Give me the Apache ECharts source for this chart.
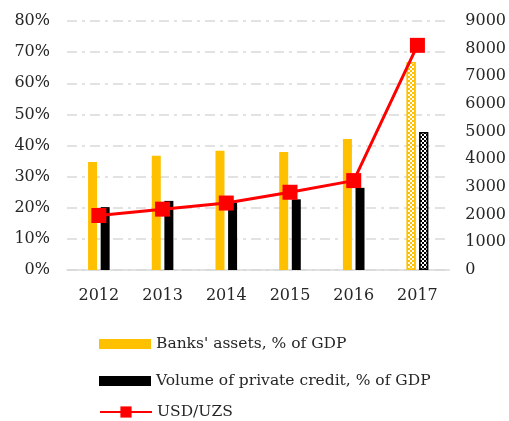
<!DOCTYPE html>
<html>
<head>
<meta charset="utf-8">
<script src="https://cdn.jsdelivr.net/npm/echarts@6/dist/echarts.min.js"></script>
<style>
  html, body { margin: 0; padding: 0; background: #fff; }
  #chart { width: 509px; height: 421px; }
</style>
</head>
<body>
<div id="chart"></div>
<script>
// Banking indicators (% of GDP) and the USD/UZS exchange rate, 2012-2017
const years = ['2012', '2013', '2014', '2015', '2016', '2017'];
const banksAssets = [34.7, 36.7, 38.3, 37.9, 42.1, 66.8];
const privateCredit = [20.2, 22.2, 21.6, 22.7, 26.4, 44.3];
const usdUzs = [1970, 2200, 2420, 2810, 3231, 8120];

const FONT = 'DejaVu Serif';
const TEXT = '#262626';
const GRID = '#d9d9d9';

// The latest year is an estimate, drawn with a hatched fill
const estimateDecal = {
  symbol: 'rect',
  symbolSize: 1,
  color: '#ffffff',
  dashArrayX: [[2, 2], [0, 2, 2, 0]],
  dashArrayY: [2, 0],
  rotation: 0
};

function withEstimate(values, color) {
  return values.map((v, i) => i === values.length - 1
    ? { value: v, itemStyle: { color: color, borderColor: color, borderWidth: 1.5, decal: estimateDecal } }
    : v);
}

const chart = echarts.init(document.getElementById('chart'), null, { renderer: 'canvas' });

const legendText = { color: TEXT, fontFamily: FONT, fontSize: 15.5 };

chart.setOption({
  animation: false,
  aria: { enabled: false, decal: { show: false } },
  grid: { left: 67, right: 59, top: 21, bottom: 151 },
  xAxis: {
    type: 'category',
    data: years,
    axisLine: { lineStyle: { color: GRID, width: 1.5 } },
    axisTick: { show: false },
    axisLabel: { color: TEXT, fontFamily: FONT, fontSize: 16, margin: 18 }
  },
  yAxis: [
    {
      type: 'value', min: 0, max: 80, interval: 10,
      axisLabel: { formatter: '{value}%', color: TEXT, fontFamily: FONT, fontSize: 16, margin: 17 },
      axisLine: { show: false }, axisTick: { show: false },
      splitLine: { lineStyle: { color: GRID, width: 1.5, type: [10, 5, 3, 5] } }
    },
    {
      type: 'value', min: 0, max: 9000, interval: 1000,
      axisLabel: { formatter: v => String(v), color: TEXT, fontFamily: FONT, fontSize: 16, margin: 16 },
      axisLine: { show: false }, axisTick: { show: false },
      splitLine: { show: false }
    }
  ],
  legend: [
    { data: [{ name: "Banks' assets, % of GDP", icon: 'rect' }], left: 99, top: 336, itemHeight: 10 },
    { data: [{ name: 'Volume of private credit, % of GDP', icon: 'rect' }], left: 99, top: 373, itemHeight: 10 },
    { data: ['USD/UZS'], left: 99, top: 404, itemHeight: 14 }
  ].map(l => Object.assign(l, {
    orient: 'vertical', itemWidth: 52, itemGap: 6, padding: 0,
    textStyle: legendText
  })),
  series: [
    {
      name: "Banks' assets, % of GDP",
      type: 'bar', yAxisIndex: 0,
      data: withEstimate(banksAssets, '#FFC000'),
      barWidth: 9, barGap: '40%',
      itemStyle: { color: '#FFC000' }
    },
    {
      name: 'Volume of private credit, % of GDP',
      type: 'bar', yAxisIndex: 0,
      data: withEstimate(privateCredit, '#000000'),
      barWidth: 9, barGap: '40%',
      itemStyle: { color: '#000000' }
    },
    {
      name: 'USD/UZS',
      type: 'line', yAxisIndex: 1,
      data: usdUzs,
      symbol: 'rect', symbolSize: 15,
      lineStyle: { color: '#FF0000', width: 3 },
      itemStyle: { color: '#FF0000' },
      z: 5
    }
  ]
});
</script>
</body>
</html>
